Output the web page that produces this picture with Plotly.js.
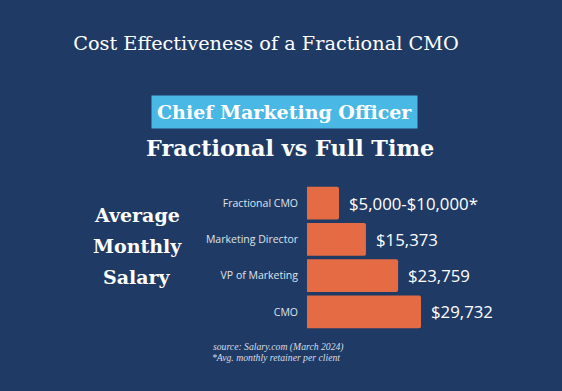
<!DOCTYPE html>
<html>
<head>
<meta charset="utf-8">
<script src="https://cdn.plot.ly/plotly-3.0.1.min.js"></script>
<style>html,body{margin:0;padding:0;background:#1f3b65;}#chart{width:562px;height:391px;}</style>
</head>
<body>
<div id="chart"></div>
<script>
const categories = ["Fractional CMO", "Marketing Director", "VP of Marketing", "CMO"];
const barValues = [8350, 15373, 23759, 29732];
const valueLabels = ["$5,000-$10,000*", "$15,373", "$23,759", "$29,732"];

const BG = "#1f3b65";
const BAR = "#e46b44";
const SERIF = "DejaVu Serif, serif";
const SANS = "Open Sans, sans-serif";

// plot area in pixels: left 307, right 507, top 185, bottom 330
const px = x => (x - 307) / 200;
const py = y => (330 - y) / 145;

const trace = {
  type: "bar",
  orientation: "h",
  y: categories,
  x: barValues,
  marker: {color: BAR, cornerradius: 2},
  hoverinfo: "skip"
};

const annotations = valueLabels.map((t, i) => ({
  x: barValues[i], y: categories[i], xref: "x", yref: "y",
  text: t, showarrow: false, xanchor: "left", yanchor: "middle", xshift: 8,
  font: {family: SANS, size: 16.8, color: "#ffffff"}
}));

annotations.push(
  {xref: "paper", yref: "paper", x: px(284), y: py(112), text: "Chief Marketing Officer",
   showarrow: false, xanchor: "center", yanchor: "middle", bgcolor: "#4ab8e5", borderpad: 5,
   font: {family: SERIF, size: 19, color: "#ffffff", weight: 600}},
  {xref: "paper", yref: "paper", x: px(290), y: py(148), text: "<b>Fractional vs Full Time</b>",
   showarrow: false, xanchor: "center", yanchor: "middle",
   font: {family: SERIF, size: 22.3, color: "#ffffff"}},
  {xref: "paper", yref: "paper", x: px(137), y: py(215), text: "<b>Average</b>",
   showarrow: false, xanchor: "center", yanchor: "middle", font: {family: SERIF, size: 19, color: "#ffffff"}},
  {xref: "paper", yref: "paper", x: px(137), y: py(246), text: "<b>Monthly</b>",
   showarrow: false, xanchor: "center", yanchor: "middle", font: {family: SERIF, size: 19, color: "#ffffff"}},
  {xref: "paper", yref: "paper", x: px(137), y: py(277), text: "<b>Salary</b>",
   showarrow: false, xanchor: "center", yanchor: "middle", font: {family: SERIF, size: 19, color: "#ffffff"}},
  {xref: "paper", yref: "paper", x: px(211), y: py(347), text: "<i>source: Salary.com (March 2024)</i>",
   showarrow: false, xanchor: "left", yanchor: "middle", font: {family: "Liberation Serif, serif", size: 9.7, color: "#d5dbe5"}},
  {xref: "paper", yref: "paper", x: px(210), y: py(357), text: "<i>*Avg. monthly retainer per client</i>",
   showarrow: false, xanchor: "left", yanchor: "middle", font: {family: "Liberation Serif, serif", size: 9.7, color: "#d5dbe5"}}
);

const layout = {
  width: 562, height: 391,
  paper_bgcolor: BG, plot_bgcolor: BG,
  margin: {l: 307, r: 55, t: 185, b: 61},
  showlegend: false,
  bargap: 0.09,
  title: {text: "Cost Effectiveness of a Fractional CMO", x: 266 / 562, xanchor: "center",
          y: 1 - 43 / 391, yanchor: "middle",
          font: {family: SERIF, size: 19.3, color: "#ffffff", weight: 500}},
  xaxis: {range: [0, 52160], visible: false, fixedrange: true},
  yaxis: {autorange: "reversed", showgrid: false, zeroline: false, showline: false,
          ticks: "", ticklabelstandoff: 8,
          tickfont: {family: SANS, size: 10.5, color: "#dfe3ea"}, fixedrange: true},
  annotations: annotations
};

Plotly.newPlot("chart", [trace], layout, {displayModeBar: false, staticPlot: true});
</script>
</body>
</html>
